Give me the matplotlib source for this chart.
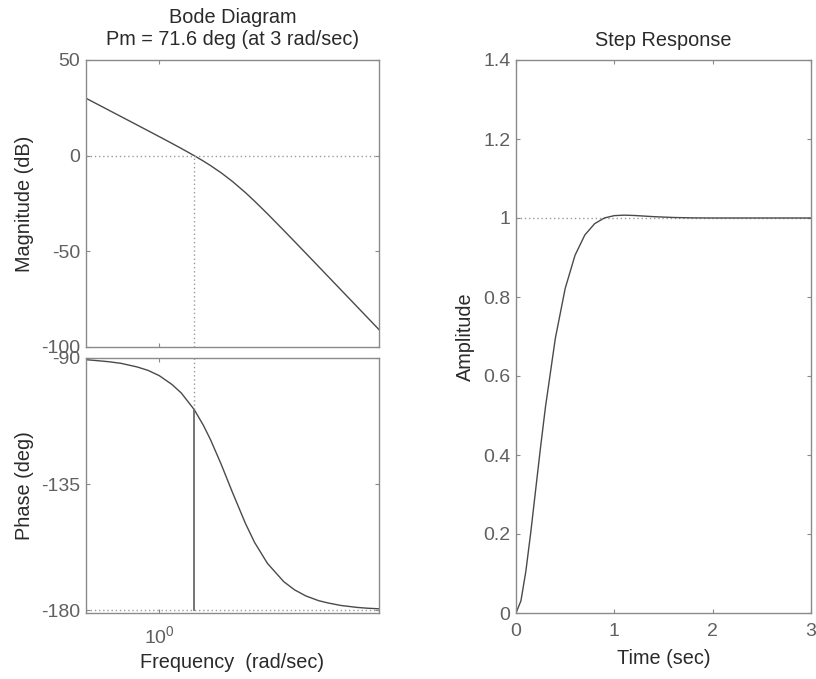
import matplotlib
matplotlib.use("Agg")
import matplotlib.pyplot as plt
from matplotlib.ticker import FixedLocator, NullLocator

plt.rcParams['font.family'] = ['Liberation Sans', 'DejaVu Sans']
plt.rcParams['axes.unicode_minus'] = False

# Open-loop frequency response
freq = [0.1, 0.15, 0.2, 0.3, 0.5, 0.7, 1, 1.5, 2, 3, 4, 5, 7, 10, 15, 20, 30,
        50, 70, 100, 150, 200, 300, 500, 700, 1000]
mag_db = [30.0, 26.48, 23.98, 20.45, 16.01, 13.07, 9.95, 6.36, 3.77, 0.0,
          -2.82, -5.15, -8.96, -13.49, -19.29, -23.76, -30.37, -39.01, -44.79,
          -50.95, -57.97, -62.97, -70.0, -78.87, -84.72, -90.92]
phase_deg = [-90.6, -91.0, -91.3, -91.9, -93.2, -94.4, -96.3, -99.5, -102.5,
             -108.4, -114.0, -119.1, -127.9, -138.0, -149.0, -155.8, -163.3,
             -169.8, -172.7, -174.9, -176.6, -177.4, -178.3, -179.0, -179.3,
             -179.5]

# Phase margin
wc = 3.0
pm = 71.6
phase_at_wc = -108.4

# Closed-loop step response
t = [0, 0.05, 0.1, 0.15, 0.2, 0.25, 0.3, 0.4, 0.5, 0.6, 0.7, 0.8, 0.9, 1.0,
     1.1, 1.2, 1.4, 1.6, 1.8, 2.0, 2.5, 3.0]
y = [0, 0.0306, 0.1053, 0.2039, 0.3122, 0.4203, 0.5223, 0.6953, 0.8215,
     0.9055, 0.9570, 0.9857, 1.0002, 1.0060, 1.0072, 1.0064, 1.0034, 1.0013,
     1.0003, 1.0000, 1.0000, 1.0000]

mag_ticks = [50, 0, -50, -100]
phase_ticks = [-90, -135, -180]
step_yticks = [0, 0.2, 0.4, 0.6, 0.8, 1, 1.2, 1.4]
step_ylabels = ['0', '0.2', '0.4', '0.6', '0.8', '1', '1.2', '1.4']
step_xticks = [0, 1, 2, 3]

W, H = 816, 679
fig = plt.figure(figsize=(W / 100, H / 100), dpi=100)

box_c = '#8a8a8a'
tick_c = '#606060'
text_c = '#2a2a2a'
line_c = '#4a4a4a'
dot_c = '#9a9a9a'
FS_TICK = 14
FS_TEXT = 14.3


def px_axes(x0, y0, x1, y1):
    return fig.add_axes([x0 / W, 1 - y1 / H, (x1 - x0) / W, (y1 - y0) / H])


def style(ax):
    for s in ax.spines.values():
        s.set_color(box_c)
        s.set_linewidth(1.0)
    ax.tick_params(direction='in', length=3, width=0.8, color=box_c,
                   labelcolor=tick_c, labelsize=FS_TICK, top=True, right=True,
                   pad=4)
    ax.xaxis.set_minor_locator(NullLocator())
    ax.yaxis.set_minor_locator(NullLocator())


# Magnitude
ax1 = px_axes(86, 60, 379, 347)
ax1.semilogx(freq, mag_db, color=line_c, lw=1.0)
ax1.set_xlim(0.1, 1000)
ax1.set_ylim(-100, 50)
ax1.plot([0.1, 1000], [0, 0], color=dot_c, lw=1.0, ls=(0, (1, 2)))
ax1.plot([wc, wc], [-100, 0], color=dot_c, lw=1.0, ls=(0, (1, 2)))
ax1.xaxis.set_major_locator(FixedLocator([1]))
ax1.set_xticklabels([])
ax1.set_yticks(mag_ticks)
style(ax1)
ax1.set_ylabel('Magnitude (dB)', fontsize=FS_TEXT, color=text_c, labelpad=5)
ax1.set_title('Bode Diagram\nPm = 71.6 deg (at 3 rad/sec)', fontsize=FS_TEXT,
              color=text_c, pad=11, linespacing=1.15)

# Phase
ax2 = px_axes(86, 358, 379, 613)
ax2.semilogx(freq, phase_deg, color=line_c, lw=1.0)
ax2.set_xlim(0.1, 1000)
ax2.set_ylim(-181, -90)
ax2.plot([0.1, 1000], [-180, -180], color=dot_c, lw=1.0, ls=(0, (1, 2)))
ax2.plot([wc, wc], [-90, phase_at_wc], color=dot_c, lw=1.0, ls=(0, (1, 2)))
ax2.plot([wc, wc], [phase_at_wc, -180], color='#6a6a6a', lw=1.3)
ax2.xaxis.set_major_locator(FixedLocator([1]))
ax2.set_xticklabels(['$\\mathregular{10^0}$'])
ax2.set_yticks(phase_ticks)
style(ax2)
ax2.tick_params(axis='x', pad=9)
ax2.set_ylabel('Phase (deg)', fontsize=FS_TEXT, color=text_c, labelpad=5)
ax2.set_xlabel('Frequency  (rad/sec)', fontsize=FS_TEXT, color=text_c,
               labelpad=4)

# Step response
ax3 = px_axes(516, 60, 811, 613)
ax3.plot([0, 3], [1, 1], color=dot_c, lw=1.0, ls=(0, (1, 2)))
ax3.plot(t, y, color=line_c, lw=1.0)
ax3.set_xlim(0, 3)
ax3.set_ylim(0, 1.4)
ax3.set_xticks(step_xticks)
ax3.set_yticks(step_yticks)
ax3.set_yticklabels(step_ylabels)
style(ax3)
ax3.tick_params(axis='x', pad=7)
ax3.set_ylabel('Amplitude', fontsize=FS_TEXT, color=text_c, labelpad=6)
ax3.set_xlabel('Time (sec)', fontsize=FS_TEXT, color=text_c, labelpad=7)
ax3.set_title('Step Response', fontsize=FS_TEXT, color=text_c, pad=10)

fig.savefig('out.png', dpi=100)
